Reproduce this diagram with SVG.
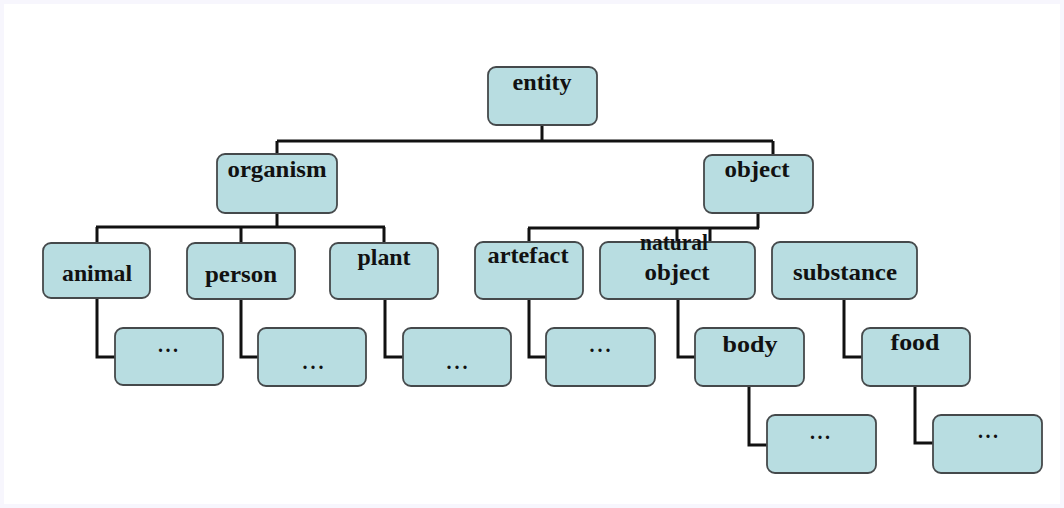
<svg xmlns="http://www.w3.org/2000/svg" width="1064" height="508" viewBox="0 0 1064 508">
  <style>
    .frame { fill: #ffffff; stroke: #f7f6fd; stroke-width: 8; }
    .box { fill: #b8dde1; stroke: #45494b; stroke-width: 1.8; }
    .lbl { font-family: "Liberation Serif", "DejaVu Serif", serif; font-weight: bold; font-size: 24px; fill: #111111; text-anchor: middle; }
    .dots { font-family: "Liberation Serif", "DejaVu Serif", serif; font-weight: bold; font-size: 20px; fill: #111111; text-anchor: middle; }
    .wire { fill: none; stroke: #111111; stroke-width: 3; stroke-linejoin: miter; }
  </style>
  <rect class="frame" x="0" y="0" width="1064" height="508"/>

  <!-- tree connectors -->
  <g id="connectors" class="wire">
    <path d="M542,125 V141 M277,141 H773 M277,141 V154 M773,141 V155"/>
    <path d="M277,213 V227 M96,227 H385 M97,227 V243 M241,227 V243 M384,227 V243"/>
    <path d="M758,213 V228 M528,228 H759 M529,228 V242 M677,228 V242 M710,228 V242"/>
    <path d="M97,298 V357 H115"/>
    <path d="M241,299 V357 H258"/>
    <path d="M385,299 V357 H403"/>
    <path d="M529,299 V357 H546"/>
    <path d="M678,299 V357 H695"/>
    <path d="M749,386 V445 H767"/>
    <path d="M844,299 V357 H862"/>
    <path d="M915,386 V443 H933"/>
  </g>

  <g id="entity">
    <rect class="box" x="488" y="67" width="109" height="58" rx="8"/>
    <text class="lbl" x="542" y="90" textLength="59" lengthAdjust="spacingAndGlyphs">entity</text>
  </g>
  <g id="organism">
    <rect class="box" x="217" y="154" width="120" height="59" rx="8"/>
    <text class="lbl" x="277" y="177" textLength="99" lengthAdjust="spacingAndGlyphs">organism</text>
  </g>
  <g id="object">
    <rect class="box" x="704" y="155" width="109" height="58" rx="8"/>
    <text class="lbl" x="757" y="177" textLength="65" lengthAdjust="spacingAndGlyphs">object</text>
  </g>
  <g id="animal">
    <rect class="box" x="43" y="243" width="107" height="55" rx="8"/>
    <text class="lbl" x="97" y="281" textLength="70" lengthAdjust="spacingAndGlyphs">animal</text>
  </g>
  <g id="person">
    <rect class="box" x="187" y="243" width="108" height="56" rx="8"/>
    <text class="lbl" x="241" y="282" textLength="72" lengthAdjust="spacingAndGlyphs">person</text>
  </g>
  <g id="plant">
    <rect class="box" x="330" y="243" width="108" height="56" rx="8"/>
    <text class="lbl" x="384" y="265" textLength="53" lengthAdjust="spacingAndGlyphs">plant</text>
  </g>
  <g id="artefact">
    <rect class="box" x="475" y="242" width="108" height="57" rx="8"/>
    <text class="lbl" x="528" y="263" textLength="81" lengthAdjust="spacingAndGlyphs">artefact</text>
  </g>
  <g id="natural-object">
    <rect class="box" x="600" y="242" width="155" height="57" rx="8"/>
    <text class="lbl" x="674" y="250" textLength="68" lengthAdjust="spacingAndGlyphs">natural</text>
    <text class="lbl" x="677" y="280" textLength="65" lengthAdjust="spacingAndGlyphs">object</text>
  </g>
  <g id="substance">
    <rect class="box" x="772" y="242" width="145" height="57" rx="8"/>
    <text class="lbl" x="845" y="280" textLength="104" lengthAdjust="spacingAndGlyphs">substance</text>
  </g>
  <g id="animal-more">
    <rect class="box" x="115" y="328" width="108" height="57" rx="8"/>
    <text class="dots" x="168" y="352" textLength="20" lengthAdjust="spacing">...</text>
  </g>
  <g id="person-more">
    <rect class="box" x="258" y="328" width="108" height="58" rx="8"/>
    <text class="dots" x="313" y="369" textLength="21" lengthAdjust="spacing">...</text>
  </g>
  <g id="plant-more">
    <rect class="box" x="403" y="328" width="108" height="58" rx="8"/>
    <text class="dots" x="457" y="369" textLength="21" lengthAdjust="spacing">...</text>
  </g>
  <g id="artefact-more">
    <rect class="box" x="546" y="328" width="109" height="58" rx="8"/>
    <text class="dots" x="600" y="352" textLength="21" lengthAdjust="spacing">...</text>
  </g>
  <g id="body">
    <rect class="box" x="695" y="328" width="109" height="58" rx="8"/>
    <text class="lbl" x="750" y="352" textLength="55" lengthAdjust="spacingAndGlyphs">body</text>
  </g>
  <g id="food">
    <rect class="box" x="862" y="328" width="108" height="58" rx="8"/>
    <text class="lbl" x="915" y="350" textLength="49" lengthAdjust="spacingAndGlyphs">food</text>
  </g>
  <g id="body-more">
    <rect class="box" x="767" y="415" width="109" height="58" rx="8"/>
    <text class="dots" x="820" y="439" textLength="20" lengthAdjust="spacing">...</text>
  </g>
  <g id="food-more">
    <rect class="box" x="933" y="415" width="109" height="58" rx="8"/>
    <text class="dots" x="988" y="438" textLength="20" lengthAdjust="spacing">...</text>
  </g>
</svg>
